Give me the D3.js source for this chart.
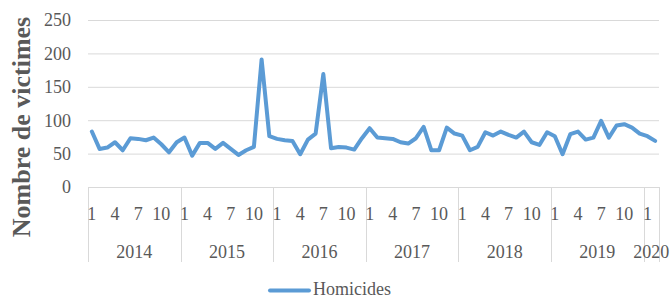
<!DOCTYPE html>
<html><head><meta charset="utf-8">
<script src="https://cdn.jsdelivr.net/npm/d3@7"></script>
<style>body{margin:0;background:#fff;}svg{display:block;}</style>
</head><body>
<svg id="c" width="670" height="295"></svg>
<script>
const years = ["2014","2015","2016","2017","2018","2019","2020"];
const monthsPerYear = [12,12,12,12,12,12,2];
const monthTickLabels = ["1","4","7","10"];
const yTicks = [0,50,100,150,200,250];
const seriesName = "Homicides";
const homicides = [
  83,57,59,67,55,73,72,70,74,64,52,67,
  74,47,66,66,57,66,57,48,55,60,191,76,
  72,70,69,49,71,80,169,58,60,59,56,73,
  88,74,73,72,67,65,73,90,55,55,89,80,
  77,55,60,82,77,83,78,74,83,67,63,82,
  76,49,79,83,71,74,99,74,92,94,89,80,
  76,69
];

const svg = d3.select("#c");
const pLeft = 88, pRight = 659, pTop = 20, pBottom = 187;
const idx = homicides.map((d,i)=>i);
const x = d3.scaleBand().domain(idx).range([pLeft,pRight]).paddingInner(0).paddingOuter(0);
const y = d3.scaleLinear().domain([0,250]).range([pBottom,pTop]);
const grey = "#d9d9d9", txt = "#595959";
const font = "'Liberation Serif', serif";

// gridlines
svg.append("g").selectAll("line").data(yTicks).join("line")
  .attr("x1",pLeft).attr("x2",pRight)
  .attr("y1",d=>y(d)+0.5).attr("y2",d=>y(d)+0.5)
  .attr("stroke",grey).attr("stroke-width",1);

// y tick labels
svg.append("g").selectAll("text").data(yTicks).join("text")
  .attr("x",71).attr("y",d=>y(d)).attr("dy","0.35em")
  .attr("text-anchor","end").attr("font-family",font).attr("font-size",18)
  .attr("fill",txt).text(d=>d);

// year boundaries
let starts = [], acc = 0;
monthsPerYear.forEach(n=>{starts.push(acc); acc+=n;});
const bounds = starts.map(s=>x(s)).concat([x(acc-1)+x.bandwidth()]);
svg.append("g").selectAll("line").data(bounds).join("line")
  .attr("x1",d=>Math.round(d)+0.5).attr("x2",d=>Math.round(d)+0.5)
  .attr("y1",pBottom).attr("y2",262)
  .attr("stroke",grey).attr("stroke-width",1);

// month labels
const monthLabels = [];
years.forEach((yr,k)=>{
  for(let m=0;m<monthsPerYear[k];m++){
    const lab = String(m+1);
    if(monthTickLabels.includes(lab)) monthLabels.push({i:starts[k]+m, lab});
  }
});
svg.append("g").selectAll("text").data(monthLabels).join("text")
  .attr("x",d=>x(d.i)+x.bandwidth()/2).attr("y",220)
  .attr("text-anchor","middle").attr("font-family",font).attr("font-size",18)
  .attr("fill",txt).text(d=>d.lab);

// year labels
svg.append("g").selectAll("text").data(years).join("text")
  .attr("x",(d,k)=>(bounds[k]+bounds[k+1])/2).attr("y",258)
  .attr("text-anchor","middle").attr("font-family",font).attr("font-size",18)
  .attr("fill",txt).text(d=>d);

// line
const line = d3.line().x((d,i)=>x(i)+x.bandwidth()/2).y(d=>y(d));
svg.append("path").datum(homicides).attr("d",line)
  .attr("fill","none").attr("stroke","#5B9BD5").attr("stroke-width",4)
  .attr("stroke-linejoin","round").attr("stroke-linecap","round");

// y title
svg.append("text").attr("transform","translate(30,127) rotate(-90)")
  .attr("text-anchor","middle").attr("font-family",font).attr("font-size",26)
  .attr("font-weight","bold").attr("fill",txt).text("Nombre de victimes");

// legend
svg.append("line").attr("x1",270).attr("x2",309).attr("y1",290.5).attr("y2",290.5)
  .attr("stroke","#5B9BD5").attr("stroke-width",4).attr("stroke-linecap","round");
svg.append("text").attr("x",313).attr("y",295).attr("font-family",font).attr("font-size",18)
  .attr("fill",txt).text(seriesName);
</script>
</body></html>
